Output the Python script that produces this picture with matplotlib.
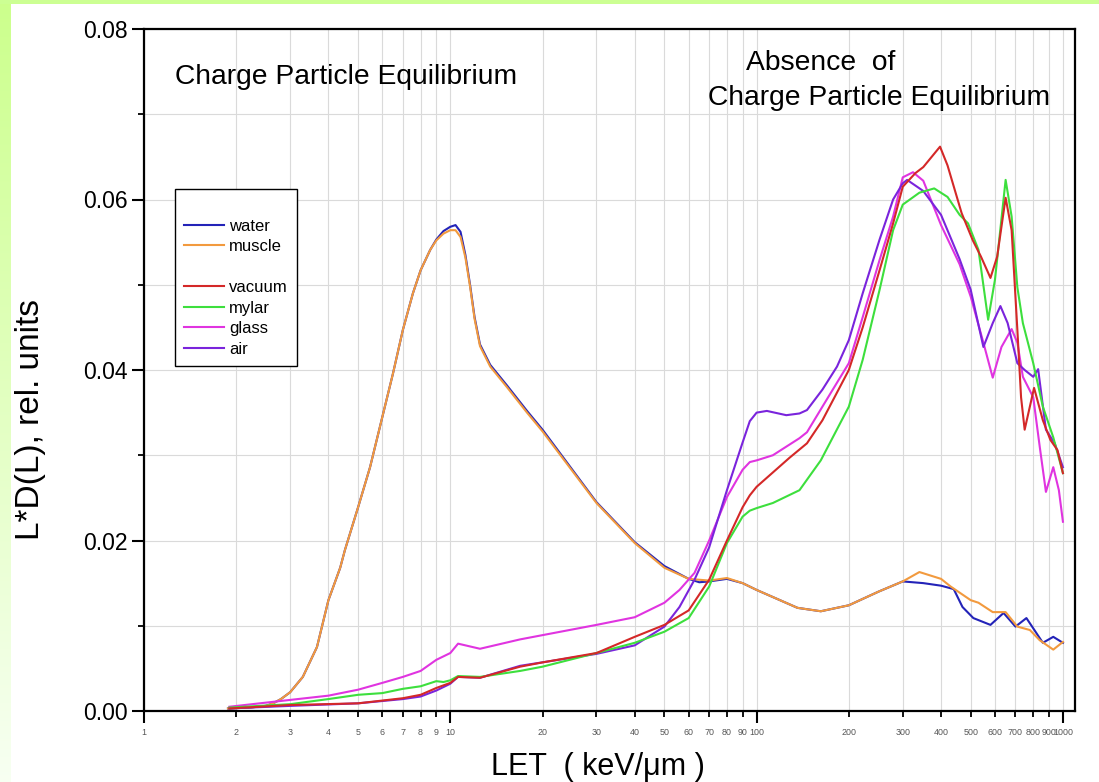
import numpy as np
import matplotlib
matplotlib.use('Agg')
import matplotlib.pyplot as plt
from matplotlib.lines import Line2D
from matplotlib.ticker import FixedLocator, FuncFormatter, MultipleLocator, FormatStrFormatter

plt.rcParams['font.family'] = ['Liberation Sans', 'DejaVu Sans']

# ---------------- data (LET in keV/um, L*D(L) in rel. units) ----------------
water_let = [1.88, 2.2, 2.5, 2.64, 2.8, 3.0, 3.3, 3.67, 4.0, 4.37, 4.53, 5.0, 5.47, 6.0, 6.5, 7.0,
             7.55, 8.0, 8.6, 9.0, 9.5, 10.0, 10.4, 10.8, 11.2, 11.6, 12.0, 12.5, 13.5, 15.3, 17.8,
             20, 30, 40, 50, 60, 65, 70, 80, 90, 100, 136, 162, 200, 250, 300, 350, 400, 440, 470,
             510, 580, 640, 700, 760, 800, 860, 930, 1000]
water = [0.0003, 0.0004, 0.0006, 0.0009, 0.0014, 0.0022, 0.0040, 0.0075, 0.0130, 0.0168, 0.0189,
         0.0239, 0.0286, 0.0345, 0.0396, 0.0447, 0.0490, 0.0517, 0.0541, 0.0553, 0.0563, 0.0568,
         0.0570, 0.0562, 0.0535, 0.0500, 0.0462, 0.0430, 0.0406, 0.0382, 0.0352, 0.0330, 0.0245,
         0.0198, 0.0170, 0.0155, 0.0151, 0.0152, 0.0155, 0.0150, 0.0142, 0.0121, 0.0117, 0.0124,
         0.0140, 0.0152, 0.0150, 0.0147, 0.0143, 0.0122, 0.0109, 0.0101, 0.0115, 0.0099, 0.0109,
         0.0097, 0.0080, 0.0087, 0.0080]

muscle_let = [1.88, 2.2, 2.5, 2.64, 2.8, 3.0, 3.3, 3.67, 4.0, 4.37, 4.53, 5.0, 5.47, 6.0, 6.5, 7.0,
              7.55, 8.0, 8.6, 9.0, 9.5, 10.0, 10.4, 10.8, 11.2, 11.6, 12.0, 12.5, 13.5, 15.3, 17.8,
              20, 30, 40, 50, 60, 70, 80, 90, 100, 136, 162, 200, 250, 300, 340, 400, 430, 500,
              530, 590, 650, 710, 780, 840, 930, 1000]
muscle = [0.0003, 0.0004, 0.0006, 0.0009, 0.0014, 0.0022, 0.0040, 0.0075, 0.0130, 0.0168, 0.0189,
          0.0239, 0.0286, 0.0345, 0.0396, 0.0447, 0.0490, 0.0517, 0.0541, 0.0552, 0.0560, 0.0564,
          0.0564, 0.0556, 0.0532, 0.0498, 0.0460, 0.0428, 0.0404, 0.0380, 0.0350, 0.0328, 0.0244,
          0.0197, 0.0168, 0.0155, 0.0153, 0.0156, 0.0150, 0.0142, 0.0121, 0.0117, 0.0124, 0.0140,
          0.0152, 0.0163, 0.0155, 0.0146, 0.0130, 0.0127, 0.0116, 0.0116, 0.0099, 0.0095, 0.0083,
          0.0072, 0.0081]

vacuum_let = [1.9, 3, 5, 7, 8, 9, 10, 10.6, 12.5, 16.9, 20, 30, 40, 50, 60, 70, 80, 90, 95, 100,
              128, 146, 164, 200, 222, 252, 279, 300, 330, 350, 397, 420, 467, 508, 540, 580, 610,
              650, 680, 710, 730, 750, 805, 860, 910, 960, 1000]
vacuum = [0.0003, 0.0007, 0.0009, 0.0015, 0.0019, 0.0027, 0.0033, 0.0040, 0.0039, 0.0052, 0.0057,
          0.0068, 0.0087, 0.0101, 0.0118, 0.0154, 0.0200, 0.0239, 0.0253, 0.0263, 0.0297, 0.0314,
          0.0341, 0.0400, 0.0450, 0.0517, 0.0572, 0.0615, 0.0631, 0.0638, 0.0662, 0.0640, 0.0584,
          0.0552, 0.0533, 0.0508, 0.0533, 0.0602, 0.0564, 0.0447, 0.0368, 0.0330, 0.0379, 0.0341,
          0.0318, 0.0306, 0.0279]

mylar_let = [1.9, 3, 4, 5, 6, 7, 8, 9, 9.5, 10, 10.6, 12.5, 16.9, 20, 30, 40, 50, 60, 70, 80, 90,
             95, 100, 113, 138, 162, 200, 222, 252, 279, 300, 340, 380, 420, 460, 490, 530, 570,
             600, 650, 680, 710, 740, 800, 860, 930, 1000]
mylar = [0.0004, 0.0008, 0.0014, 0.0019, 0.0021, 0.0026, 0.0029, 0.0035, 0.0034, 0.0036, 0.0041,
         0.0040, 0.0047, 0.0052, 0.0068, 0.0080, 0.0093, 0.0109, 0.0146, 0.0197, 0.0228, 0.0235,
         0.0238, 0.0244, 0.0259, 0.0294, 0.0357, 0.0412, 0.0494, 0.0564, 0.0594, 0.0608, 0.0613,
         0.0603, 0.0582, 0.0572, 0.0541, 0.0459, 0.0506, 0.0623, 0.0580, 0.0497, 0.0455, 0.0408,
         0.0357, 0.0321, 0.0279]

glass_let = [1.9, 3, 4, 5, 6, 7, 8, 9, 10, 10.6, 11.2, 12.5, 16.9, 30, 40, 50, 56, 62.7, 70, 80, 90,
             95, 100, 113, 138, 146, 164, 200, 222, 252, 279, 300, 324, 350, 400, 460, 500, 550,
             590, 630, 680, 710, 740, 800, 840, 880, 930, 970, 1000]
glass = [0.0005, 0.0013, 0.0018, 0.0025, 0.0033, 0.0040, 0.0047, 0.0060, 0.0068, 0.0079, 0.0077,
         0.0073, 0.0084, 0.0101, 0.0110, 0.0127, 0.0142, 0.0162, 0.0200, 0.0251, 0.0283, 0.0292,
         0.0294, 0.0300, 0.0320, 0.0327, 0.0357, 0.0408, 0.0462, 0.0529, 0.0580, 0.0626, 0.0632,
         0.0622, 0.0570, 0.0524, 0.0486, 0.0432, 0.0391, 0.0427, 0.0448, 0.0432, 0.0392, 0.0368,
         0.0310, 0.0257, 0.0286, 0.0259, 0.0222]

air_let = [1.9, 3, 5, 7, 8, 9, 10, 10.6, 12.5, 16.9, 30, 40, 50, 56, 62.7, 70, 80, 90, 95, 100, 108,
           125, 138, 146, 164, 183, 200, 222, 252, 279, 300, 310, 350, 400, 460, 500, 550, 590,
           625, 660, 710, 750, 800, 830, 880, 940, 1000]
air = [0.0003, 0.0006, 0.0009, 0.0014, 0.0017, 0.0024, 0.0032, 0.0040, 0.0039, 0.0053, 0.0067,
       0.0077, 0.0099, 0.0122, 0.0154, 0.0192, 0.0259, 0.0315, 0.0340, 0.0350, 0.0352, 0.0347,
       0.0349, 0.0353, 0.0377, 0.0404, 0.0435, 0.0490, 0.0553, 0.0600, 0.0619, 0.0623, 0.0610,
       0.0582, 0.0530, 0.0494, 0.0427, 0.0455, 0.0475, 0.0455, 0.0408, 0.0400, 0.0392, 0.0401,
       0.0330, 0.0314, 0.0286]

x_major = [1, 10, 100, 1000]
x_minor = [2, 3, 4, 5, 6, 7, 8, 9, 20, 30, 40, 50, 60, 70, 80, 90,
           200, 300, 400, 500, 600, 700, 800, 900]

# ---------------- figure ----------------
W, H = 1099, 782
fig = plt.figure(figsize=(W / 100, H / 100), dpi=100)


def fpos(x, y):
    return x / W, 1 - y / H


# slide-like green border background
bg = fig.add_axes([0, 0, 1, 1], zorder=-10)
bg.axis('off')
img = np.ones((H, W, 3))
t = np.linspace(0, 1, H)[:, None]
left = np.stack([0.80 + 0.17 * t, np.ones_like(t), 0.55 + 0.40 * t], axis=-1)
img[:, :11, :] = left
img[:4, :, :] = [0.80, 1.0, 0.58]
bg.imshow(img, extent=[0, 1, 0, 1], aspect='auto', interpolation='bilinear')
bg.set_xlim(0, 1)
bg.set_ylim(0, 1)

ax_l, ax_r, ax_t, ax_b = 144, 1075, 29, 711
ax = fig.add_axes([ax_l / W, 1 - ax_b / H, (ax_r - ax_l) / W, (ax_b - ax_t) / H])
ax.set_xscale('log')

lw = 1.5
l_water, = ax.plot(water_let, water, color='#2323b8', lw=lw)
l_muscle, = ax.plot(muscle_let, muscle, color='#f29a3e', lw=lw)
l_glass, = ax.plot(glass_let, glass, color='#e034e0', lw=lw)
l_air, = ax.plot(air_let, air, color='#7a24dc', lw=lw)
l_mylar, = ax.plot(mylar_let, mylar, color='#3ddf3d', lw=lw)
l_vacuum, = ax.plot(vacuum_let, vacuum, color='#d42828', lw=lw)

ax.set_xlim(1, 1095)
ax.set_ylim(0, 0.08)

ax.xaxis.set_major_locator(FixedLocator(x_major))
ax.xaxis.set_minor_locator(FixedLocator(x_minor))
fmt = FuncFormatter(lambda v, p: '%d' % round(v))
ax.xaxis.set_major_formatter(fmt)
ax.xaxis.set_minor_formatter(fmt)
ax.yaxis.set_major_locator(MultipleLocator(0.02))
ax.yaxis.set_minor_locator(MultipleLocator(0.01))
ax.yaxis.set_major_formatter(FormatStrFormatter('%.2f'))

ax.tick_params(axis='x', which='major', direction='out', length=8.5, width=1.5,
               labelsize=6.4, labelcolor='#555555', pad=4)
ax.tick_params(axis='x', which='minor', direction='out', length=4.5, width=1.3,
               labelsize=6.4, labelcolor='#555555', pad=7.5)
ax.tick_params(axis='y', which='major', direction='out', length=8.5, width=1.5,
               labelsize=16.5, pad=3)
ax.tick_params(axis='y', which='minor', direction='out', length=4.5, width=1.3)

for s in ax.spines.values():
    s.set_linewidth(1.6)
    s.set_color('black')

ax.grid(which='both', color='#dadada', lw=0.8)
ax.set_axisbelow(True)

ax.set_xlabel('LET  ( keV/\u03bcm )', fontsize=22)
ax.xaxis.set_label_coords((598 - ax_l) / (ax_r - ax_l), (ax_b - 752) / (ax_b - ax_t))
ax.set_ylabel('L*D(L), rel. units', fontsize=24)
ax.yaxis.set_label_coords((46 - ax_l) / (ax_r - ax_l), (ax_b - 420) / (ax_b - ax_t))

fig.text(*fpos(175, 77), 'Charge Particle Equilibrium', fontsize=20.3, ha='left', va='center')
fig.text(*fpos(821, 63), 'Absence  of', fontsize=20.3, ha='center', va='center')
fig.text(*fpos(879, 98), 'Charge Particle Equilibrium', fontsize=20.3, ha='center', va='center')

blank = Line2D([], [], color='none')
handles = [blank, l_water, l_muscle, blank, l_vacuum, l_mylar, l_glass, l_air]
labels = [' ', 'water', 'muscle', ' ', 'vacuum', 'mylar', 'glass', 'air']
leg = ax.legend(handles, labels, loc='upper left', bbox_to_anchor=fpos(175, 189),
                bbox_transform=fig.transFigure, borderaxespad=0, fontsize=12,
                handlelength=2.4, handletextpad=0.3, labelspacing=0.33, borderpad=0.55,
                frameon=True, fancybox=False, edgecolor='black', framealpha=1)
leg.get_frame().set_linewidth(1.0)

fig.savefig('out.png', dpi=100)
